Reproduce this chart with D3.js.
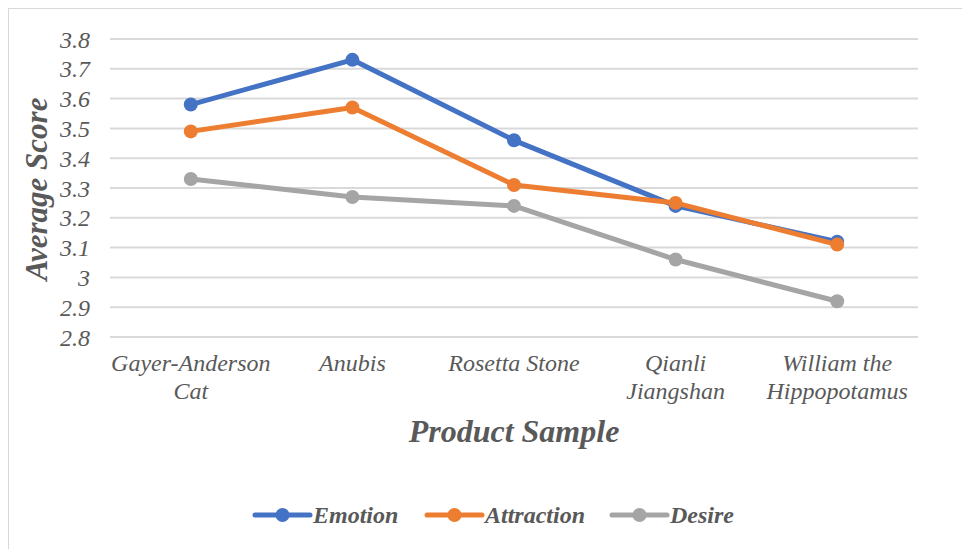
<!DOCTYPE html>
<html>
<head>
<meta charset="utf-8">
<script src="https://cdn.jsdelivr.net/npm/d3@7"></script>
<style>
  html, body { margin: 0; padding: 0; background: #fff; }
  svg { display: block; }
  text { font-family: "Liberation Serif", "Times New Roman", serif; font-style: italic; fill: #595959; }
</style>
</head>
<body>
<svg id="chart" width="962" height="549"></svg>
<script>
// Product samples along the x axis (line breaks marked with "|")
const categories = ["Gayer-Anderson|Cat", "Anubis", "Rosetta Stone", "Qianli|Jiangshan", "William the|Hippopotamus"];
const seriesNames = ["Emotion", "Attraction", "Desire"];
const emotion    = [3.58, 3.73, 3.46, 3.24, 3.12];
const attraction = [3.49, 3.57, 3.31, 3.25, 3.11];
const desire     = [3.33, 3.27, 3.24, 3.06, 2.92];
const yTicks = [2.8, 2.9, 3.0, 3.1, 3.2, 3.3, 3.4, 3.5, 3.6, 3.7, 3.8];
const yTickLabels = ["2.8", "2.9", "3", "3.1", "3.2", "3.3", "3.4", "3.5", "3.6", "3.7", "3.8"];

const colors = ["#4472C4", "#ED7D31", "#A5A5A5"];
const series = [emotion, attraction, desire];

const svg = d3.select("#chart");
const W = 962, H = 549;

// chart frame (right and bottom edges run past the page)
svg.append("rect")
  .attr("x", 8.5).attr("y", 8.5).attr("width", W).attr("height", H)
  .attr("fill", "#fff").attr("stroke", "#d9d9d9").attr("stroke-width", 1);

const plot = { left: 110, right: 918, top: 39, bottom: 337 };

const x = d3.scaleBand().domain(d3.range(categories.length)).range([plot.left, plot.right]);
const y = d3.scaleLinear().domain([2.8, 3.8]).range([plot.bottom, plot.top]);
const cx = i => x(i) + x.bandwidth() / 2;

// horizontal gridlines
svg.append("g").selectAll("line").data(yTicks).join("line")
  .attr("x1", plot.left).attr("x2", plot.right)
  .attr("y1", d => y(d)).attr("y2", d => y(d))
  .attr("stroke", "#d9d9d9").attr("stroke-width", 2);

// y axis labels
const yAxis = d3.axisLeft(y).tickValues(yTicks).tickSize(0).tickPadding(0)
  .tickFormat((d, i) => yTickLabels[i]);
const yg = svg.append("g").attr("transform", `translate(${plot.left - 20},0)`).call(yAxis);
yg.attr("font-family", null).attr("font-size", null);
yg.select(".domain").remove();
yg.selectAll("text")
  .style("font-size", "24px").attr("fill", "#595959")
  .attr("dy", "0.34em");

// x axis labels
const xg = svg.append("g");
categories.forEach((c, i) => {
  const lines = c.split("|");
  const t = xg.append("text")
    .attr("x", cx(i))
    .attr("y", 371)
    .attr("text-anchor", "middle")
    .style("font-size", "24px");
  lines.forEach((ln, j) => {
    t.append("tspan").attr("x", cx(i)).attr("dy", j === 0 ? 0 : 28).text(ln);
  });
});

// axis titles
svg.append("text")
  .attr("transform", `translate(47,189) rotate(-90)`)
  .attr("text-anchor", "middle")
  .style("font-size", "31px").style("font-weight", "bold")
  .text("Average Score");

svg.append("text")
  .attr("x", 514).attr("y", 442)
  .attr("text-anchor", "middle")
  .style("font-size", "32px").style("font-weight", "bold")
  .text("Product Sample");

// lines and markers
const line = d3.line().x((d, i) => cx(i)).y(d => y(d));
series.forEach((s, k) => {
  const g = svg.append("g");
  g.append("path").datum(s)
    .attr("d", line).attr("fill", "none")
    .attr("stroke", colors[k]).attr("stroke-width", 5)
    .attr("stroke-linejoin", "round").attr("stroke-linecap", "round");
  g.selectAll("circle").data(s).join("circle")
    .attr("cx", (d, i) => cx(i))
    .attr("cy", d => y(d))
    .attr("r", 7).attr("fill", colors[k]);
});

// legend
const legendX = [255, 427, 612];
const legend = svg.append("g");
seriesNames.forEach((n, k) => {
  const lx = legendX[k], ly = 515;
  legend.append("line").attr("x1", lx).attr("x2", lx + 55).attr("y1", ly).attr("y2", ly)
    .attr("stroke", colors[k]).attr("stroke-width", 5).attr("stroke-linecap", "round");
  legend.append("circle").attr("cx", lx + 27.5).attr("cy", ly).attr("r", 7).attr("fill", colors[k]);
  legend.append("text").attr("x", lx + 58).attr("y", 523)
    .style("font-size", "24px").style("font-weight", "bold")
    .text(n);
});
</script>
</body>
</html>
